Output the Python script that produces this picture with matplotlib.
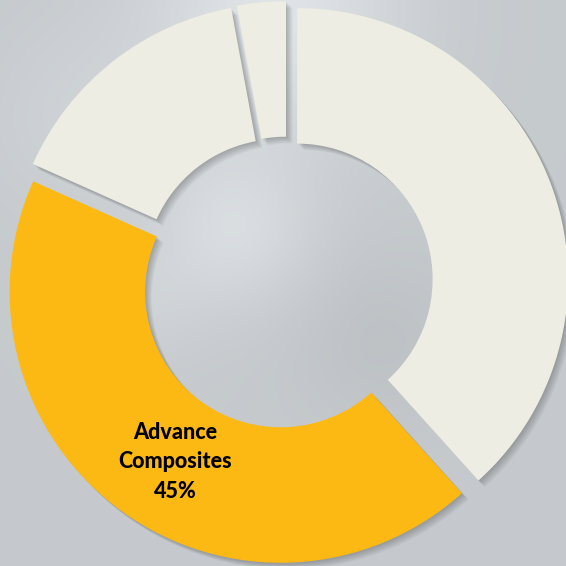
import numpy as np
import matplotlib

matplotlib.use("Agg")
import matplotlib.pyplot as plt  # noqa: E402

# slices, clockwise from 12 o'clock (percent)
segments = ["Other A", "Advance Composites", "Other B", "Other C"]
shares = [38.3, 43.3, 15.4, 2.9]
slice_colors = ["#EEEDE3", "#FDB913", "#EEEDE3", "#EEEDE3"]
label_text = "Advance\nComposites\n45%"

W_PX, H_PX = 566, 566
CX, CY, R_PX = 287, 283, 271  # donut centre / radius in pixels


def background(ax, xlim, ylim):
    yy, xx = np.mgrid[0:H_PX, 0:W_PX].astype(float)
    img = np.zeros((H_PX, W_PX, 3))
    img[:] = (0.775, 0.792, 0.805)
    for (gx, gy, s, a) in ((275, 10, 90, 0.10), (235, 230, 55, 0.07),
                           (140, 300, 45, 0.03), (80, 120, 70, 0.03)):
        g = a * np.exp(-((xx - gx) ** 2 + (yy - gy) ** 2) / (2 * s * s))
        img += g[..., None]
    shade = 0.03 * np.exp(-((xx - 380) ** 2 + (yy - 340) ** 2) / (2 * 60 ** 2))
    img -= shade[..., None]
    ax.imshow(np.clip(img, 0, 1), extent=(xlim[0], xlim[1], ylim[0], ylim[1]),
              origin="upper", aspect="auto", zorder=0)


def main():
    fig = plt.figure(figsize=(W_PX / 100, H_PX / 100), dpi=100)
    ax = fig.add_axes([0, 0, 1, 1])
    xlim = (-CX / R_PX, (W_PX - CX) / R_PX)
    ylim = ((CY - H_PX) / R_PX, CY / R_PX)
    background(ax, xlim, ylim)

    explode = [0.04] * len(shares)
    # soft drop shadows
    for k in range(1, 7):
        off = 0.004 * k
        ax.pie(shares, colors=["#000000"] * len(shares), startangle=90,
               counterclock=False, radius=1, center=(off, -off), explode=explode,
               wedgeprops=dict(width=0.5, linewidth=0, alpha=0.04, zorder=1))

    ax.pie(shares, colors=slice_colors, startangle=90, counterclock=False,
           radius=1, explode=explode,
           wedgeprops=dict(width=0.5, linewidth=0, zorder=2))

    ax.text((175 - CX) / R_PX, (CY - 462) / R_PX, label_text, ha="center",
            va="center", fontsize=15.5, weight="black", family="Lato",
            linespacing=1.5, color="black", zorder=3)

    ax.set_xlim(*xlim)
    ax.set_ylim(*ylim)
    ax.set_aspect("auto")
    ax.axis("off")
    fig.savefig("out.png", dpi=100)


if __name__ == "__main__":
    main()
